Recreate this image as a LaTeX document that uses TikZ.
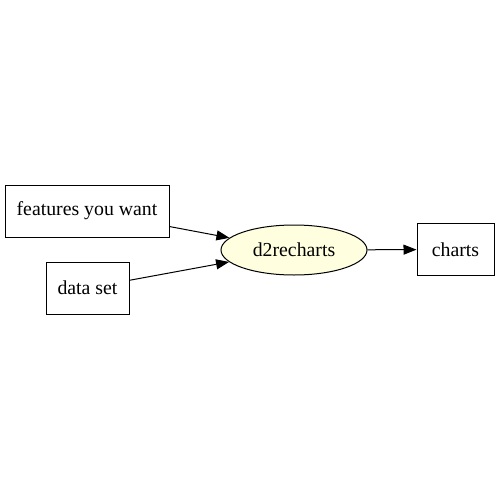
\documentclass[tikz,border=0pt]{standalone}
\usepackage{fontspec}
\setmainfont{Liberation Serif}
\usetikzlibrary{positioning,arrows.meta,shapes.geometric}

\begin{document}
\begin{tikzpicture}[x=1pt,y=-1pt,text centered,line width=1pt,
    font=\rmfamily\fontsize{19.8}{24}\selectfont]
            \tikzstyle{box}=[draw,rectangle,inner sep=0pt]
            \tikzstyle{tool}=[draw,ellipse,inner sep=0pt,fill=lightyellow,
                minimum width=146pt,minimum height=50pt]
            \tikzstyle{edge}=[-{Triangle[length=13pt,width=10pt]}]
            \definecolor{lightyellow}{HTML}{FFFFE0}
            \useasboundingbox (0,0) rectangle (500,500);
            \node[box,minimum width=164pt,minimum height=52pt] (want) at (87,211) {features you want};
            \node[box,minimum width=83pt,minimum height=52pt] (data) at (87.5,288) {data set};
            \node[tool] (d2r) at (294,250) {d2recharts};
            \node[box,minimum width=77pt,minimum height=52pt] (charts) at (455.5,249.5) {charts};

            \draw[edge] (want) -- (d2r);
            \draw[edge] (data) -- (d2r);
            \draw[edge] (d2r) -- (charts);
        \end{tikzpicture}
\end{document}
